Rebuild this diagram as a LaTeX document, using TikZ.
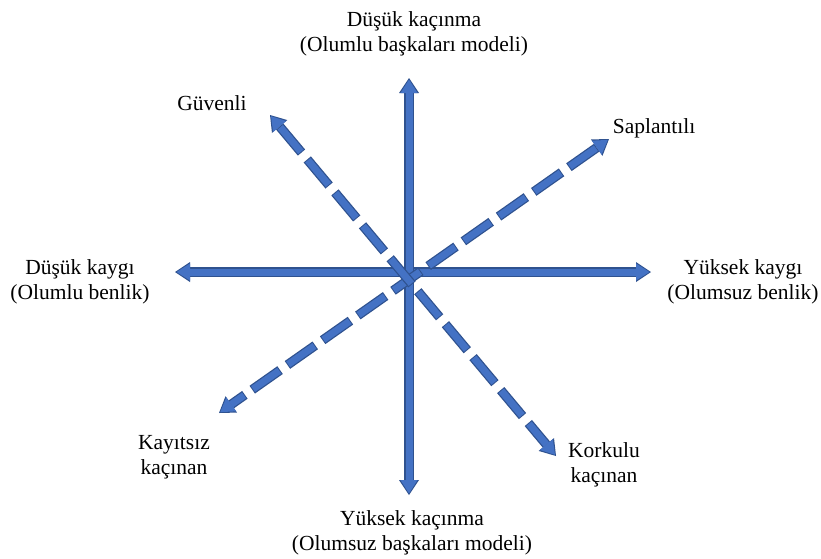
\documentclass[tikz,border=0pt]{standalone}
\usepackage{fontspec}
\setmainfont{Liberation Serif}
\usepackage{tikz}
\usetikzlibrary{arrows.meta}
\definecolor{axisblue}{HTML}{4472C4}
\definecolor{axisedge}{HTML}{2F528F}
\tikzset{
    lbl/.style={align=center,font=\fontsize{21.5}{24.5}\selectfont,inner sep=0pt},
    edgeline/.style={draw=axisedge,line width=9.5pt,
        {Triangle[length=15pt,width=20pt,line width=0pt]}-{Triangle[length=15pt,width=20pt,line width=0pt]}},
    fillline/.style={draw=axisblue,line width=7pt,shorten <=1.6pt,shorten >=1.6pt,
        {Triangle[length=13.4pt,width=17pt,line width=0pt]}-{Triangle[length=13.4pt,width=17pt,line width=0pt]}},
    dashedge/.style={dash pattern=on 34pt off 9pt},
    dashfill/.style={dash pattern=on 32pt off 11pt,dash phase=42pt}
}

\begin{document}
\begin{tikzpicture}[x=1pt,y=-1pt]
    \useasboundingbox (0,0) rectangle (821,558);
    % axis ends
    \coordinate (vtop) at (409,78);
    \coordinate (vbot) at (409,495);
    \coordinate (hleft) at (175,272);
    \coordinate (hright) at (651,272);
    \coordinate (gtip) at (270,115);
    \coordinate (ktip) at (556,456);
    \coordinate (stip) at (609,139);
    \coordinate (ytip) at (219,413);
    % labels
    \node[lbl] (lowavoid) at (414,34) {Düşük kaçınma\\(Olumlu başkaları modeli)};
    \node[lbl] (highavoid) at (412,533) {Yüksek kaçınma\\(Olumsuz başkaları modeli)};
    \node[lbl] (lowanx) at (80,282) {Düşük kaygı\\(Olumlu benlik)};
    \node[lbl] (highanx) at (743,282) {Yüksek kaygı\\(Olumsuz benlik)};
    \node[lbl] (secure) at (212,103) {Güvenli};
    \node[lbl] (preocc) at (654,128) {Saplantılı};
    \node[lbl] (dismiss) at (174,457) {Kayıtsız\\kaçınan};
    \node[lbl] (fearful) at (604,465) {Korkulu\\kaçınan};
    % axes
    \draw[edgeline] (hleft) -- (hright);
    \draw[fillline] (hleft) -- (hright);
    \draw[edgeline] (vtop) -- (vbot);
    \draw[fillline] (vtop) -- (vbot);
    \draw[edgeline,dashedge] (stip) -- (ytip);
    \draw[fillline,dashfill] (stip) -- (ytip);
    \draw[edgeline,dashedge] (gtip) -- (ktip);
    \draw[fillline,dashfill] (gtip) -- (ktip);
\end{tikzpicture}
\end{document}
